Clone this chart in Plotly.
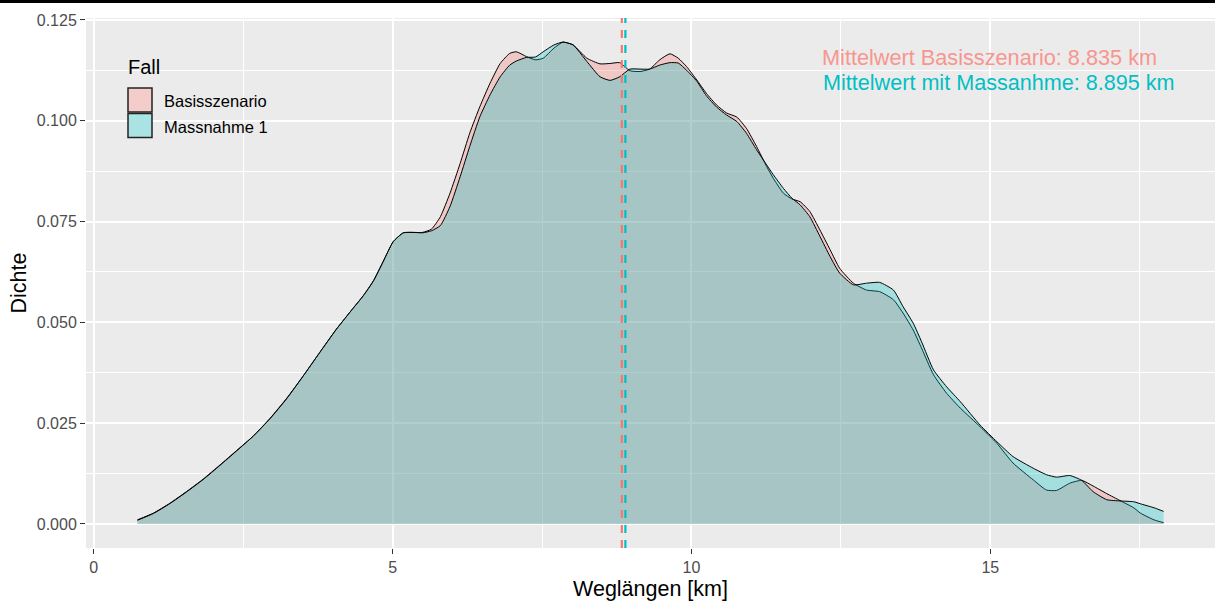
import plotly.graph_objects as go

# Weglängen-Stützstellen [km] und geschätzte Dichten je Fall
weglaenge_km = [0.73, 1.00, 1.27, 1.55, 1.83, 2.11, 2.39, 2.67, 2.95, 3.23, 3.50, 3.78,
                4.06, 4.34, 4.51, 4.68, 4.84, 5.01, 5.18, 5.34, 5.50, 5.65, 5.80, 5.96,
                6.13, 6.29, 6.46, 6.63, 6.80, 6.96, 7.07, 7.24, 7.39, 7.52, 7.70, 7.85,
                8.02, 8.25, 8.47, 8.64, 8.80, 8.97, 9.14, 9.30, 9.47, 9.64, 9.78, 9.92,
                10.09, 10.25, 10.42, 10.59, 10.76, 10.92, 11.09, 11.26, 11.37, 11.54, 11.68, 11.82,
                11.98, 12.15, 12.32, 12.48, 12.71, 12.93, 13.15, 13.38, 13.54, 13.71, 13.85, 14.05,
                14.27, 14.50, 14.83, 15.11, 15.38, 15.72, 15.94, 16.11, 16.33, 16.53, 16.72, 16.95,
                17.17, 17.40, 17.51, 17.74, 17.90]

dichte_basis = [0.0010, 0.0027, 0.0051, 0.0080, 0.0111, 0.0146, 0.0182, 0.0218, 0.0262, 0.0312, 0.0366, 0.0425,
                0.0483, 0.0535, 0.0566, 0.0603, 0.0650, 0.0700, 0.0722, 0.0723, 0.0723, 0.0731, 0.0762, 0.0820,
                0.0894, 0.0969, 0.1035, 0.1093, 0.1142, 0.1167, 0.1171, 0.1159, 0.1151, 0.1155, 0.1180, 0.1195,
                0.1188, 0.1155, 0.1141, 0.1142, 0.1144, 0.1124, 0.1122, 0.1128, 0.1151, 0.1166, 0.1155, 0.1134,
                0.1101, 0.1068, 0.1039, 0.1019, 0.1009, 0.0981, 0.0936, 0.0886, 0.0857, 0.0820, 0.0806, 0.0799,
                0.0775, 0.0729, 0.0680, 0.0634, 0.0597, 0.0580, 0.0576, 0.0556, 0.0523, 0.0481, 0.0436, 0.0370,
                0.0324, 0.0287, 0.0241, 0.0200, 0.0151, 0.0109, 0.0084, 0.0083, 0.0101, 0.0108, 0.0094, 0.0075,
                0.0058, 0.0040, 0.0027, 0.0010, 0.0003]

dichte_massnahme = [0.0009, 0.0026, 0.0050, 0.0079, 0.0110, 0.0145, 0.0181, 0.0218, 0.0261, 0.0311, 0.0366, 0.0425,
                    0.0483, 0.0535, 0.0566, 0.0603, 0.0650, 0.0700, 0.0722, 0.0723, 0.0722, 0.0727, 0.0740, 0.0787,
                    0.0861, 0.0936, 0.1010, 0.1064, 0.1109, 0.1138, 0.1148, 0.1157, 0.1158, 0.1171, 0.1188, 0.1195,
                    0.1188, 0.1147, 0.1109, 0.1100, 0.1109, 0.1128, 0.1128, 0.1128, 0.1138, 0.1144, 0.1143, 0.1125,
                    0.1098, 0.1062, 0.1034, 0.1014, 0.0998, 0.0969, 0.0928, 0.0890, 0.0866, 0.0832, 0.0808, 0.0791,
                    0.0762, 0.0713, 0.0663, 0.0622, 0.0593, 0.0597, 0.0599, 0.0580, 0.0539, 0.0498, 0.0452, 0.0382,
                    0.0340, 0.0303, 0.0245, 0.0204, 0.0167, 0.0138, 0.0122, 0.0116, 0.0120, 0.0108, 0.0080, 0.0060,
                    0.0057, 0.0055, 0.0050, 0.0040, 0.0031]

mittel_basis = 8.835
mittel_massnahme = 8.895

faelle = ["Basisszenario", "Massnahme 1"]
farben = ["#F8766D", "#00BFC4"]
fuellung = ["rgba(248,118,109,0.3)", "rgba(0,191,196,0.3)"]
legend_key_fill = ["#F4CDCA", "#A9E3E4"]

FONT = "Liberation Sans, Arial, sans-serif"

# Plot-Bereich in Pixeln
W, H = 1215, 604
L, T, PW, PH = 86, 18, 1129, 530


def paper(px, py):
    return (px - L) / PW, (T + PH - py) / PH


fig = go.Figure()

for name, dichte, fc in zip(faelle, [dichte_basis, dichte_massnahme], fuellung):
    fig.add_trace(go.Scatter(
        x=weglaenge_km, y=dichte, name=name, mode="lines",
        fill="tozeroy", fillcolor=fc,
        line=dict(color="black", width=1, shape="spline", smoothing=0.5),
        showlegend=False, hoverinfo="skip",
    ))

for m, c in zip([mittel_basis, mittel_massnahme], farben):
    fig.add_vline(x=m, line=dict(color=c, width=2.2, dash="8px,7px"), layer="above")

axis_common = dict(
    showgrid=True, gridcolor="white", gridwidth=2,
    zeroline=False, showline=False,
    ticks="outside", ticklen=5, tickwidth=1, tickcolor="#333333",
    tickfont=dict(family=FONT, size=16, color="#4D4D4D"),
)

fig.update_xaxes(
    range=[-0.13, 18.76], tick0=0, dtick=5,
    minor=dict(dtick=2.5, tick0=0, showgrid=True, gridcolor="white", gridwidth=1, ticks=""),
    title=dict(text="Weglängen [km]", font=dict(family=FONT, size=21.5, color="black"), standoff=5),
    **axis_common,
)
fig.update_yaxes(
    range=[-0.005975, 0.125475], tick0=0, dtick=0.025, tickformat=".3f",
    minor=dict(dtick=0.0125, tick0=0, showgrid=True, gridcolor="white", gridwidth=1, ticks=""),
    title=dict(text="Dichte", font=dict(family=FONT, size=21.5, color="black"), standoff=4),
    **axis_common,
)

shapes = []
annotations = []

# Schwarzer Rand am oberen Bildrand
shapes.append(dict(type="rect", xref="paper", yref="paper",
                   x0=paper(-5, 0)[0], x1=paper(W + 5, 0)[0],
                   y0=paper(0, 2.7)[1], y1=paper(0, -3)[1],
                   fillcolor="black", line=dict(width=0)))
annotations.append(dict(xref="paper", yref="paper", x=paper(W / 2, 0)[0], y=paper(0, 0)[1],
                        xanchor="center", yanchor="top", text=" ", showarrow=False,
                        width=W + 10, height=3, bgcolor="black", borderpad=0, borderwidth=0,
                        font=dict(size=1)))

# Legende
bx0, by0 = paper(117, 147)
bx1, by1 = paper(278, 44)
shapes.append(dict(type="rect", xref="paper", yref="paper", x0=bx0, x1=bx1, y0=by0, y1=by1,
                   fillcolor="white", line=dict(width=0), layer="above"))
annotations.append(dict(xref="paper", yref="paper", x=paper(126, 0)[0], y=paper(0, 67)[1],
                        xanchor="left", yanchor="middle", text="Fall", showarrow=False,
                        font=dict(family=FONT, size=20, color="black")))
key_tops = [88, 113.5]
for name, kf, top in zip(faelle, legend_key_fill, key_tops):
    kx0, ky0 = paper(128, top + 24)
    kx1, ky1 = paper(152, top)
    shapes.append(dict(type="rect", xref="paper", yref="paper", x0=kx0, x1=kx1, y0=ky0, y1=ky1,
                       fillcolor=kf, line=dict(color="#222222", width=1.5), layer="above"))
    annotations.append(dict(xref="paper", yref="paper", x=paper(162, 0)[0], y=paper(0, top + 13)[1],
                            xanchor="left", yanchor="middle", text=name, showarrow=False,
                            font=dict(family=FONT, size=16.5, color="black")))

# Mittelwert-Beschriftungen
annotations.append(dict(xref="x", yref="y", x=12.15, y=0.1156, xanchor="left", yanchor="middle",
                        text=f"Mittelwert Basisszenario: {mittel_basis:.3f} km", showarrow=False,
                        font=dict(family=FONT, size=21.7, color="#F7968F")))
annotations.append(dict(xref="x", yref="y", x=12.16, y=0.1096, xanchor="left", yanchor="middle",
                        text=f"Mittelwert mit Massanhme: {mittel_massnahme:.3f} km", showarrow=False,
                        font=dict(family=FONT, size=21.6, color="#00BFC4")))

fig.update_layout(
    width=W, height=H,
    margin=dict(l=L, r=W - L - PW, t=T, b=H - T - PH, pad=0),
    plot_bgcolor="#EBEBEB", paper_bgcolor="white",
    font=dict(family=FONT),
    shapes=shapes, annotations=annotations,
    showlegend=False,
)

fig.write_html("out.html")
